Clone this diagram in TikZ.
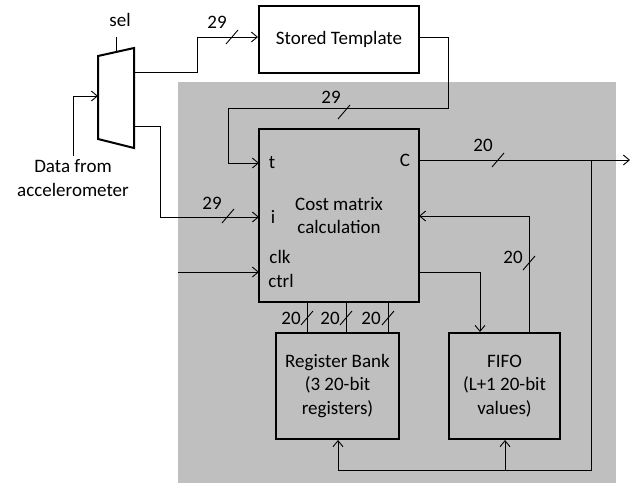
\documentclass[tikz,border=0pt]{standalone}
\usepackage{fontspec}
\setmainfont{Carlito}
\usetikzlibrary{arrows.meta,calc}
\begin{document}
\begin{tikzpicture}[x=1pt,y=-1pt,
  every node/.style={font=\fontsize{19}{23.5}\selectfont, inner sep=0pt},
  blk/.style={draw=black, line width=2pt, align=center},
  wire/.style={draw=black, line width=0.9pt},
  arr/.style={wire, -{Straight Barb[length=6pt,width=10pt,line width=0.9pt]}},
  slashmark/.style={draw=black, line width=0.9pt},
  lbl/.style={font=\fontsize{19}{23.5}\selectfont}
]
\useasboundingbox (0,0) rectangle (639,483);
% grey background
\fill[fill={rgb,255:red,191;green,191;blue,191}] (178,82) rectangle (616,483);

% blocks
\node[blk, minimum width=160pt, minimum height=67pt] (st) at (339,39.5) {Stored Template};
\node[blk, minimum width=160pt, minimum height=173pt] (cm) at (339,215.5) {Cost matrix\\calculation};
\node[blk, minimum width=123pt, minimum height=106pt] (rb) at (337.5,386) {Register Bank\\(3 20-bit\\registers)};
\node[blk, minimum width=111pt, minimum height=106pt] (ff) at (504.5,386) {FIFO\\(L+1 20-bit\\values)};

% mux
\coordinate (mtl) at (98,56);
\coordinate (mtr) at (134,48);
\coordinate (mbr) at (134,148);
\coordinate (mbl) at (98,139);
\draw[line width=2pt, line join=miter, fill=white] (mtl) -- (mtr) -- (mbr) -- (mbl) -- cycle;
\coordinate (muxsel) at (116,52);
\coordinate (muxin) at (98,96);
\coordinate (muxo1) at (134,72);
\coordinate (muxo2) at (134,126);

% port coordinates
\coordinate (pt) at (259,163);
\coordinate (pi) at (259,217);
\coordinate (pclk) at (259,272);
\coordinate (pc) at (419,160);
\coordinate (pfb) at (419,216);
\coordinate (pout) at (419,272);

% labels
\node (sel) at (120,20) {sel};
\node[align=center] (data) at (73,178) {Data from\\accelerometer};
\node (lt) at (272,163) {t};
\node (li) at (273,217) {i};
\node (lclk) at (280,257) {clk};
\node (lctrl) at (281,281) {ctrl};
\node (lC) at (405,160) {C};
\node (n29a) at (217,22) {29};
\node (n29b) at (212,203) {29};
\node (n29c) at (331,97) {29};
\node (n20a) at (483,145) {20};
\node (n20b) at (513,257) {20};
\node (n20r1) at (291,318) {20};
\node (n20r2) at (330,318) {20};
\node (n20r3) at (371,318) {20};

% wires
\draw[wire] (muxsel) -- (116,37);
\draw[arr] (73,156) -- (73,96) -- (muxin);
\draw[arr] (muxo1) -- (197,72) -- (197,37) -- (st.west |- 0,37);
\draw[arr] (muxo2) -- (160,126) -- (160,217) -- (pi);
\draw[arr] (st.east |- 0,37) -- (448,37) -- (448,108) -- (228,108) -- (228,163) -- (pt);
\draw[arr] (178,272) -- (pclk);
\coordinate (outend) at (630,160);
\draw[arr] (pc) -- (outend);
\coordinate (tap) at (591,160);
\coordinate (bot) at (591,470);
\draw[wire] (tap) -- (bot) -- (338,470);
\draw[arr] (338,470) -- (rb.south -| 338,0);
\draw[arr] (505,470) -- (ff.south -| 505,0);
\draw[arr] (ff.north -| 529,0) -- (529,216) -- (pfb);
\draw[arr] (pout) -- (480,272) -- (ff.north -| 480,0);
\draw[wire] (cm.south -| 307,0) -- (rb.north -| 307,0);
\draw[wire] (cm.south -| 346,0) -- (rb.north -| 346,0);
\draw[wire] (cm.south -| 388,0) -- (rb.north -| 388,0);

% bus-width slashes
\foreach \cx/\cy in {232/37, 228/216, 344/112, 498/160, 529/263, 307/318, 346/318, 388/318}
  \draw[slashmark] (\cx-6,\cy+7) -- (\cx+6,\cy-7);
\end{tikzpicture}
\end{document}
